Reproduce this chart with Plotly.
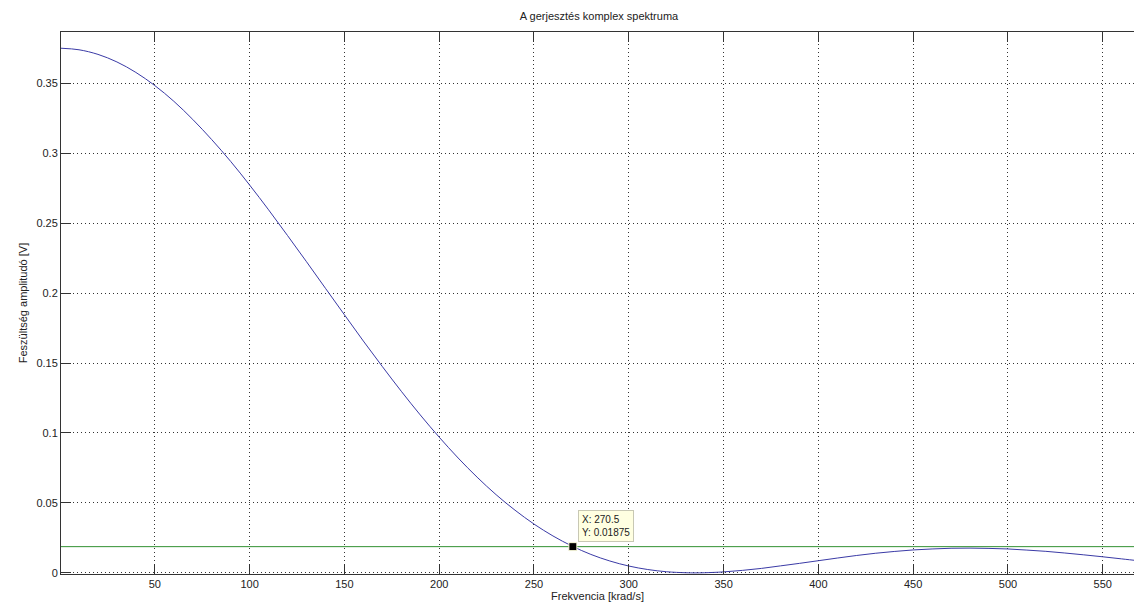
import plotly.graph_objects as go

# Frequency axis (krad/s) and amplitude values
freq = [0.5, 10, 20, 30, 40, 50, 60, 70, 80, 90, 100, 110, 120, 130, 140, 150,
        160, 170, 180, 190, 200, 210, 220, 230, 240, 250, 260, 270, 280, 290,
        300, 310, 320, 330, 335, 340, 350, 360, 370, 380, 390, 400, 410, 420,
        430, 440, 450, 460, 470, 480, 490, 500, 510, 520, 530, 540, 550, 560, 570]
amp = [0.375, 0.3739, 0.3706, 0.3652, 0.3577, 0.3483, 0.3371, 0.3241, 0.3097,
       0.2941, 0.2772, 0.2595, 0.2411, 0.2224, 0.2034, 0.1845, 0.1657, 0.1475,
       0.1298, 0.1129, 0.0970, 0.0821, 0.0684, 0.0559, 0.0448, 0.0349, 0.0264,
       0.0192, 0.0132, 0.0085, 0.0049, 0.0024, 0.0008, 0.0001, 0.0, 0.0001,
       0.0007, 0.0018, 0.0032, 0.0050, 0.0068, 0.0087, 0.0106, 0.0124, 0.0140,
       0.0153, 0.0164, 0.0171, 0.0176, 0.0177, 0.0175, 0.0171, 0.0163, 0.0154,
       0.0142, 0.0129, 0.0115, 0.0100, 0.0085]

level_x = [0.5, 570]
level_y = [0.01875, 0.01875]

tip_x = [270.5]
tip_y = [0.01875]

x_ticks = [50, 100, 150, 200, 250, 300, 350, 400, 450, 500, 550]
y_ticks = [0, 0.05, 0.1, 0.15, 0.2, 0.25, 0.3, 0.35]
y_tick_labels = ["0", "0.05", "0.1", "0.15", "0.2", "0.25", "0.3", "0.35"]

FONT = "Liberation Sans, Arial, sans-serif"

W, H = 1134, 610

fig = go.Figure()
fig.add_trace(go.Scatter(x=freq, y=amp, mode="lines", line=dict(color="#3a3aa6", width=1, shape="spline"),
                         showlegend=False, hoverinfo="skip"))
fig.add_trace(go.Scatter(x=level_x, y=level_y, mode="lines", line=dict(color="rgb(50,145,50)", width=1),
                         showlegend=False, hoverinfo="skip"))
fig.add_trace(go.Scatter(x=tip_x, y=tip_y, mode="markers",
                         marker=dict(symbol="square", size=8, color="black",
                                     line=dict(color="#FFFFE0", width=1)),
                         showlegend=False, hoverinfo="skip"))

fig.add_annotation(x=tip_x[0], y=tip_y[0], xref="x", yref="y",
                   text="X: 270.5<br>Y: 0.01875", showarrow=False,
                   xanchor="left", yanchor="bottom", xshift=5, yshift=5, align="left",
                   bgcolor="#FFFFE1", bordercolor="#C8C8B4", borderwidth=1, borderpad=3,
                   font=dict(family=FONT, size=10, color="#222222"))

fig.update_layout(
    width=W, height=H,
    paper_bgcolor="white", plot_bgcolor="white",
    margin=dict(l=61, r=0, t=32, b=36),
    font=dict(family=FONT, size=11, color="#222222"),
    title=dict(text="A gerjesztés komplex spektruma", x=599/W, xanchor="center",
               y=1 - 16/H, yanchor="middle", xref="container", yref="container",
               font=dict(family=FONT, size=11, color="#222222")),
)
fig.update_xaxes(range=[0.5, 566.5], tickvals=x_ticks, ticks="inside", ticklen=10,
                 tickcolor="#333333", showline=True, linecolor="#333333", linewidth=1,
                 mirror="ticks", showgrid=True, gridcolor="#333333", griddash="1px,3px",
                 gridwidth=1, zeroline=False,
                 title=dict(text="Frekvencia [krad/s]", standoff=2, font=dict(size=11)))
fig.update_yaxes(range=[-0.0008, 0.3866], tickvals=y_ticks, ticktext=y_tick_labels,
                 ticks="inside", ticklen=10, tickcolor="#333333", showline=True,
                 linecolor="#333333", linewidth=1, mirror=False, showgrid=True,
                 gridcolor="#333333", griddash="1px,3px", gridwidth=1, zeroline=False,
                 title=dict(text="Feszültség amplitudó [V]", standoff=6, font=dict(size=11)))

fig.write_html("out.html", config={"displayModeBar": False},
               post_script="document.body.style.margin='0';"
                           "document.documentElement.style.overflow='hidden';"
                           "document.body.style.overflow='hidden';")
